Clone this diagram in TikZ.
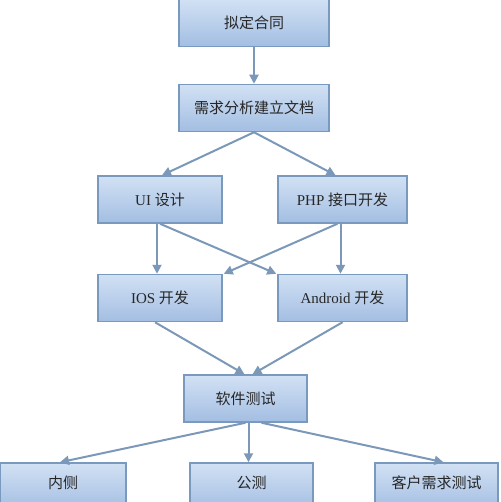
\documentclass[tikz,border=0pt]{standalone}
\usepackage{fontspec}
\setmainfont{Liberation Serif}
\newfontfamily\cjk{Noto Sans CJK SC}
\usetikzlibrary{arrows.meta,calc}
\definecolor{boxline}{HTML}{7A99BF}
\definecolor{boxtop}{HTML}{D2E1F4}
\definecolor{boxbot}{HTML}{A3BEE2}
\definecolor{arrowc}{HTML}{7B98B8}
\begin{document}
\begin{tikzpicture}[x=1pt,y=-1pt,
  box/.style={draw=boxline, line width=1.5pt, top color=boxtop, bottom color=boxbot,
    minimum height=47pt, inner sep=0pt, font=\fontsize{15}{18}\selectfont, text=black!85},
  conn/.style={draw=arrowc, line width=2pt, -{Triangle[length=9pt,width=9pt]}}]
\useasboundingbox (0,0) rectangle (500,502);
\node[box, minimum width=150pt] (contract) at (254,23) {\cjk 拟定合同};
\node[box, minimum width=150pt] (needs) at (254,108) {\cjk 需求分析建立文档};
\node[box, minimum width=124pt] (ui) at (160,199.5) {UI {\cjk 设计}};
\node[box, minimum width=129pt] (php) at (342.5,199.5) {PHP {\cjk 接口开发}};
\node[box, minimum width=124pt] (ios) at (160,298) {IOS {\cjk 开发}};
\node[box, minimum width=129pt] (android) at (342.5,298) {Android {\cjk 开发}};
\node[box, minimum width=123pt] (soft) at (245.5,398.5) {\cjk 软件测试};
\node[box, minimum width=126pt] (inner) at (63,486.5) {\raisebox{8pt}{\cjk 内侧}};
\node[box, minimum width=123pt] (public) at (251.5,486.5) {\raisebox{8pt}{\cjk 公测}};
\node[box, minimum width=123pt] (client) at (436.5,486.5) {\raisebox{8pt}{\cjk 客户需求测试}};
\draw[conn] (contract.south) -- (needs.north);
\draw[conn] (needs.south) -- ($(ui.north)+(2,0)$);
\draw[conn] (needs.south) -- ($(php.north)+(-7,0)$);
\draw[conn] ($(ui.south)+(-3,0)$) -- ($(ios.north)+(-3,0)$);
\draw[conn] (ui.south) -- ($(android.north west)+(-1,0)$);
\draw[conn] ($(php.south)+(-5,0)$) -- ($(ios.north east)+(1,0)$);
\draw[conn] ($(php.south)+(-2,0)$) -- ($(android.north)+(-2,0)$);
\draw[conn] ($(ios.south)+(-5,0)$) -- ($(soft.north)+(-1,0)$);
\draw[conn] (android.south) -- ($(soft.north)+(7,0)$);
\draw[conn] (soft.south) -- ($(inner.north)+(-3,0)$);
\draw[conn] ($(soft.south)+(3,0)$) -- ($(public.north)+(-3,0)$);
\draw[conn] ($(soft.south)+(16,0)$) -- ($(client.north)+(7,0)$);
\end{tikzpicture}
\end{document}
